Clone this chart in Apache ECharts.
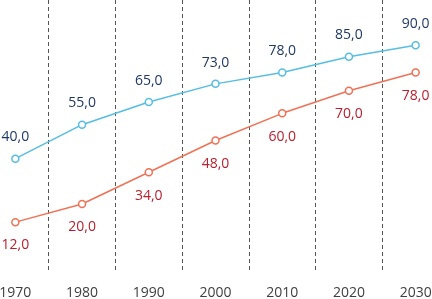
<!DOCTYPE html>
<html><head><meta charset="utf-8">
<script src="https://cdn.jsdelivr.net/npm/echarts@6/dist/echarts.min.js"></script>
<style>html,body{margin:0;padding:0;background:#fff}#c{width:432px;height:299px}</style>
</head><body><div id="c"></div>
<script>
const categories = ['1970','1980','1990','2000','2010','2020','2030'];
const blueValues = [40, 55, 65, 73, 78, 85, 90];
const redValues = [12, 20, 34, 48, 60, 70, 78];
const fmt = p => p.value.toFixed(1).replace('.', ',');
const chart = echarts.init(document.getElementById('c'), null, {renderer:'canvas'});
chart.setOption({
  animation: false,
  grid: {left: -18, right: -17, top: 0, bottom: 27, containLabel: false, outerBoundsMode: 'none'},
  xAxis: {
    type: 'category', data: categories, boundaryGap: true,
    axisLine: {show: false}, axisTick: {show: false},
    axisLabel: {color: '#404040', fontSize: 14, fontFamily: 'Open Sans', margin: 14, interval: 0},
    splitLine: {show: true, interval: 0, lineStyle: {color: '#555', type: [4, 3], width: 1}}
  },
  yAxis: {type: 'value', min: -10, max: 110, show: false, splitLine: {show: false}},
  series: [
    {type: 'line', data: blueValues, symbol: 'circle', symbolSize: 7, showAllSymbol: true,
     itemStyle: {color: '#fff', borderColor: '#56bde3', borderWidth: 1.5},
     lineStyle: {color: '#56bde3', width: 1.5},
     label: {show: true, position: 'top', distance: 10, formatter: fmt, color: '#1f3864', fontSize: 14, fontFamily: 'Open Sans'}},
    {type: 'line', data: redValues, symbol: 'circle', symbolSize: 7, showAllSymbol: true,
     itemStyle: {color: '#fff', borderColor: '#f07155', borderWidth: 1.5},
     lineStyle: {color: '#f07155', width: 1.5},
     label: {show: true, position: 'bottom', distance: 12, formatter: fmt, color: '#b8202e', fontSize: 14, fontFamily: 'Open Sans'}}
  ]
});
</script></body></html>
